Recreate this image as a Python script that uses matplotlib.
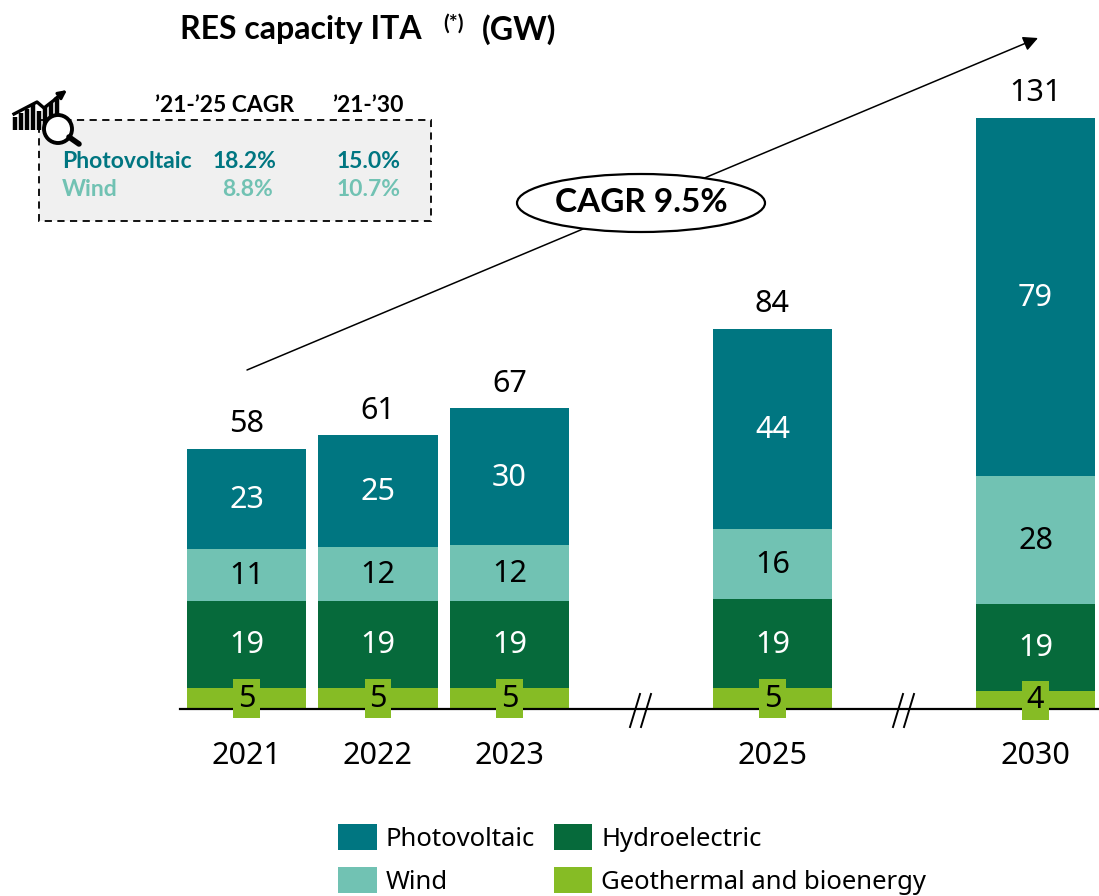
import matplotlib
matplotlib.use("Agg")
import matplotlib.pyplot as plt
from matplotlib.patches import Ellipse, Rectangle, Circle

plt.rcParams['font.family'] = ['Noto Sans', 'DejaVu Sans']
BOLD = 'Lato'

years = ['2021', '2022', '2023', '2025', '2030']
slots = [0, 1, 2, 4, 6]

# heights (GW)
geothermal = [4.7, 4.7, 4.7, 4.7, 4.0]
hydro = [19.3, 19.3, 19.3, 19.6, 19.3]
wind = [11.5, 12.0, 12.3, 15.6, 28.4]
solar = [22.2, 24.7, 30.4, 44.4, 79.4]

geothermal_labels = ['5', '5', '5', '5', '4']
hydro_labels = ['19', '19', '19', '19', '19']
wind_labels = ['11', '12', '12', '16', '28']
solar_labels = ['23', '25', '30', '44', '79']
total_labels = ['58', '61', '67', '84', '131']

cagr_rows = ['Photovoltaic', 'Wind']
cagr_25 = ['18.2%', '8.8%']
cagr_30 = ['15.0%', '10.7%']

C_SOLAR = '#007681'
C_WIND = '#71C2B3'
C_HYDRO = '#066A3B'
C_GEO = '#86BC25'

W, H = 1099, 896
fig = plt.figure(figsize=(W / 100, H / 100), dpi=100)

# main axes: baseline at pixel row 709, 4.51 px per GW, 131.5 px per slot
left, right, top, base = 180, 1098, 60, 709
ax = fig.add_axes([left / W, 1 - base / H, (right - left) / W, (base - top) / H])
ax.set_xlim((left - 246.5) / 131.5, (right - 246.5) / 131.5)
ax.set_ylim(0, (base - top) / 4.51)
ax.patch.set_alpha(0)

bottom = [0] * 5
series = [(geothermal, C_GEO, 'Geothermal and bioenergy', geothermal_labels, 'black'),
          (hydro, C_HYDRO, 'Hydroelectric', hydro_labels, 'white'),
          (wind, C_WIND, 'Wind', wind_labels, 'black'),
          (solar, C_SOLAR, 'Photovoltaic', solar_labels, 'white')]
handles = {}
for vals, col, name, labels, tcol in series:
    bars = ax.bar(slots, vals, 0.912, bottom=bottom, color=col, label=name, zorder=2)
    handles[name] = bars
    for x, v, b, lab in zip(slots, vals, bottom, labels):
        if col == C_GEO:
            # the small labels sit in a green box that overlaps the axis line
            ax.text(x, b + v / 2 - 0.1, lab, ha='center', va='center', color=tcol, fontsize=22,
                    linespacing=1, zorder=6,
                    bbox=dict(facecolor=C_GEO, edgecolor='none', boxstyle='square,pad=0.15'))
        else:
            ax.text(x, b + v / 2 - 0.2, lab, ha='center', va='center', color=tcol, fontsize=22, zorder=5)
    bottom = [b + v for b, v in zip(bottom, vals)]

for x, t, lab in zip(slots, bottom, total_labels):
    ax.text(x, t + 2.1, lab, ha='center', va='bottom', fontsize=22, color='black')

for side in ['top', 'left', 'right']:
    ax.spines[side].set_visible(False)
ax.spines['bottom'].set_linewidth(1.6)
ax.spines['bottom'].set_zorder(4)
ax.set_yticks([])
ax.set_xticks(slots)
ax.set_xticklabels(years, fontsize=22)
ax.tick_params(axis='x', length=0, pad=23)

fig.legend([handles['Photovoltaic'], handles['Wind'], handles['Hydroelectric'], handles['Geothermal and bioenergy']],
           ['Photovoltaic', 'Wind', 'Hydroelectric', 'Geothermal and bioenergy'],
           ncols=2, frameon=False, fontsize=18.5, handlelength=1.5, handleheight=1.17,
           labelspacing=0.6, columnspacing=0.72, handletextpad=0.36, borderpad=0, borderaxespad=0,
           loc='upper left', bbox_to_anchor=(338 / W, 1 - 824 / H))

# overlay in pixel coordinates for the annotations
ov = fig.add_axes([0, 0, 1, 1], zorder=10)
ov.set_xlim(0, W)
ov.set_ylim(H, 0)
ov.axis('off')

ov.text(180, 30, 'RES capacity ITA', fontsize=23, fontweight='bold', family=BOLD, va='center')
ov.text(443, 24, '(*)', fontsize=15, fontweight='bold', family=BOLD, va='center')
ov.text(482, 30, '(GW)', fontsize=23, fontweight='bold', family=BOLD, va='center')

# trend arrow and CAGR bubble
ov.annotate('', xy=(1038, 38), xytext=(247, 370),
            arrowprops=dict(arrowstyle='-|>', color='black', lw=1.1, mutation_scale=22, shrinkA=0, shrinkB=0))
ov.add_patch(Ellipse((641, 203), 248, 58, facecolor='white', edgecolor='black', lw=1.6, zorder=3))
ov.text(641, 203, 'CAGR 9.5%', fontsize=24, fontweight='bold', family=BOLD, ha='center', va='center', zorder=4)

# axis breaks
for x0 in (630, 641, 893, 904):
    ov.plot([x0, x0 + 10], [727, 694], color='black', lw=1.4)

# CAGR box
ov.add_patch(Rectangle((39, 120), 392, 101, facecolor='#F0F0F0', edgecolor='black', lw=1.3, linestyle=(0, (4, 3))))
ov.text(225, 106, '’21-’25 CAGR', fontsize=16.5, fontweight='bold', family=BOLD, ha='center', va='center')
ov.text(368, 106, '’21-’30', fontsize=16.5, fontweight='bold', family=BOLD, ha='center', va='center')
rows_y = [162, 189]
row_cols = [C_SOLAR, C_WIND]
row_right = [276, 273]
for name, a, b, y, c, xr in zip(cagr_rows, cagr_25, cagr_30, rows_y, row_cols, row_right):
    ov.text(62, y, name, color=c, fontsize=16.5, fontweight='bold', family=BOLD, va='center')
    ov.text(xr, y, a, color=c, fontsize=16.5, fontweight='bold', family=BOLD, va='center', ha='right')
    ov.text(401, y, b, color=c, fontsize=16.5, fontweight='bold', family=BOLD, va='center', ha='right')

# little chart and magnifier icon
for x0, y0 in zip([15, 21, 27, 33, 39, 45, 51, 57], [117, 113, 109, 105, 111, 107, 103, 99]):
    ov.plot([x0, x0], [y0, 130], color='black', lw=3.2, solid_capstyle='butt')
ov.plot([14, 37, 44, 62], [114, 102, 108, 94], color='black', lw=2.4)
ov.annotate('', xy=(67, 90), xytext=(55, 99),
            arrowprops=dict(arrowstyle='-|>', color='black', lw=2.2, mutation_scale=12, shrinkA=0, shrinkB=0))
ov.add_patch(Circle((58, 129), 14, facecolor='white', edgecolor='black', lw=2.8, zorder=5))
ov.plot([69, 79], [137, 144], color='black', lw=4, solid_capstyle='round', zorder=5)

fig.savefig('out.png', dpi=100)
